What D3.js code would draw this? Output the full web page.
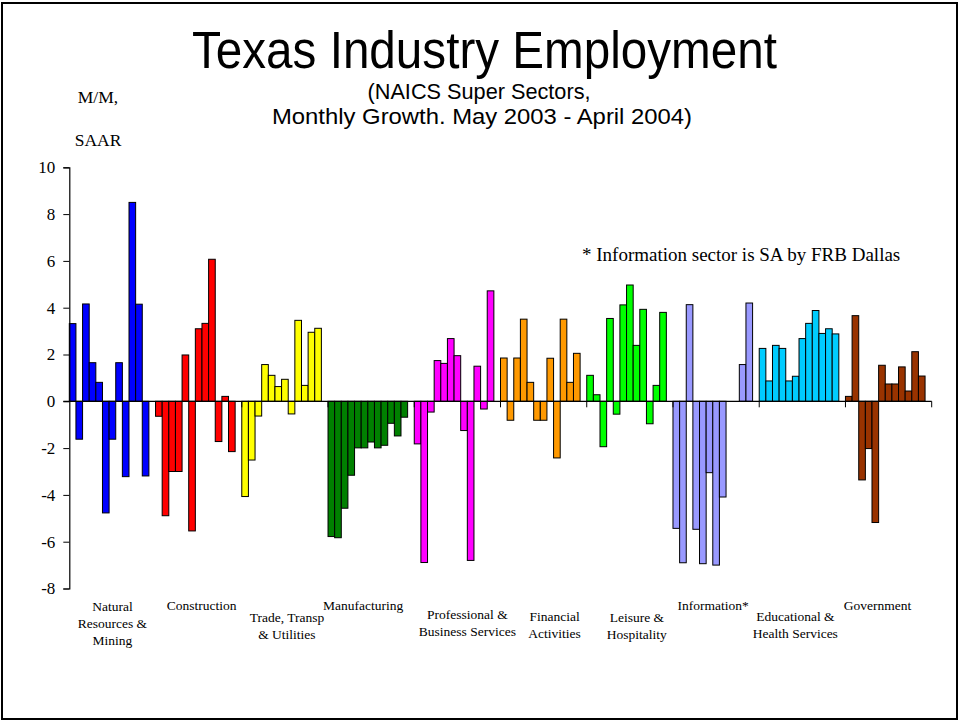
<html>
<head>
<meta charset="utf-8">
<script src="https://d3js.org/d3.v7.min.js"></script>
<style>
  body { margin: 0; background: #fff; }
  .serif { font-family: "Liberation Serif", "Times New Roman", serif; fill: #000; }
  .sans { font-family: "Liberation Sans", Arial, sans-serif; fill: #000; }
</style>
</head>
<body>
<script>
// ** data: monthly growth, May 2003 - April 2004 (M/M, SAAR)
var months = ["May 03","Jun 03","Jul 03","Aug 03","Sep 03","Oct 03","Nov 03","Dec 03","Jan 04","Feb 04","Mar 04","Apr 04"];
var sectors = ["Natural Resources & Mining","Construction","Trade, Transp & Utilities","Manufacturing",
               "Professional & Business Services","Financial Activities","Leisure & Hospitality",
               "Information*","Educational & Health Services","Government"];
var sectorLines = [["Natural","Resources &","Mining"],["Construction"],["Trade, Transp","& Utilities"],["Manufacturing"],
                   ["Professional &","Business Services"],["Financial","Activities"],["Leisure &","Hospitality"],
                   ["Information*"],["Educational &","Health Services"],["Government"]];

var natRes        = [3.32, -1.62, 4.16, 1.65, 0.81, -4.77, -1.62, 1.65, -3.22, 8.50, 4.15, -3.19];
var construction  = [-0.64, -4.89, -3.00, -3.00, 1.98, -5.54, 3.10, 3.33, 6.07, -1.72, 0.21, -2.15];
var trade         = [-4.07, -2.51, -0.63, 1.57, 1.11, 0.63, 0.94, -0.54, 3.46, 0.68, 2.95, 3.12];
var manufacturing = [-5.78, -5.83, -4.57, -3.16, -1.99, -1.99, -1.74, -1.99, -1.88, -0.94, -1.48, -0.68];
var profBus       = [-1.82, -6.89, -0.46, 1.74, 1.62, 2.68, 1.95, -1.25, -6.80, 1.50, -0.33, 4.72];
var financial     = [1.85, -0.81, 1.85, 3.51, 0.81, -0.81, -0.81, 1.84, -2.42, 3.51, 0.81, 2.05];
var leisure       = [1.11, 0.28, -1.94, 3.54, -0.55, 4.12, 4.97, 2.39, 3.93, -0.96, 0.68, 3.80];
var information   = [-5.43, -6.90, 4.13, -5.47, -6.94, -3.05, -7.00, -4.09, 0, 0, 1.57, 4.20];
var eduHealth     = [2.26, 0.87, 2.39, 2.26, 0.87, 1.07, 2.68, 3.33, 3.88, 2.90, 3.10, 2.88];
var government    = [0.21, 3.66, -3.36, -2.02, -5.18, 1.54, 0.74, 0.74, 1.47, 0.44, 2.12, 1.08];

var series = [natRes, construction, trade, manufacturing, profBus, financial, leisure, information, eduHealth, government];
var colorset = ["#0000FF","#FF0000","#FFFF00","#008000","#FF00FF","#FF9900","#00FF00","#9999FF","#00CCFF","#993300"];
var yTicks = [10, 8, 6, 4, 2, 0, -2, -4, -6, -8];

// label nudges (layout only): x shift from group centre, first baseline
var labelPos = [[0,611],[3,610],[2,622],[-8,610],[10,619],[11,621],[7,622],[-3,610],[-7,621],[-11,610]];

// *** canvas
var width = 960, height = 721;
var plot = { left: 69.3, right: 931.7, top: 167.3, bottom: 588.5 };

var svg = d3.select("body").append("svg")
    .attr("width", width)
    .attr("height", height);

svg.append("rect")
    .attr("x", 2).attr("y", 3)
    .attr("width", 955).attr("height", 716)
    .attr("fill", "none")
    .attr("stroke", "#000")
    .attr("stroke-width", 2);

// *** scales
var xScale = d3.scaleBand().domain(sectors).range([plot.left, plot.right]).padding(0);
var mScale = d3.scaleBand().domain(months).range([0, xScale.bandwidth() * 12 / 13]).padding(0);
var yScale = d3.scaleLinear().domain([-8, 10]).range([plot.bottom, plot.top]);

// *** bars
var groups = svg.selectAll("g.sector")
    .data(sectors)
    .enter().append("g")
    .attr("class", "sector")
    .attr("transform", function(d){ return "translate(" + xScale(d) + ",0)"; });

groups.each(function(s, i){
    d3.select(this).selectAll("rect")
        .data(series[i].map(function(v, j){ return { m: months[j], v: v }; }).filter(function(d){ return d.v !== 0; }))
        .enter().append("rect")
        .attr("x", function(d){ return mScale(d.m); })
        .attr("width", mScale.bandwidth())
        .attr("y", function(d){ return yScale(Math.max(0, d.v)); })
        .attr("height", function(d){ return Math.abs(yScale(d.v) - yScale(0)); })
        .attr("fill", colorset[i])
        .attr("stroke", "#000")
        .attr("stroke-width", 1);
});

// *** axes
var yAxis = d3.axisLeft(yScale).tickValues(yTicks).tickSize(6).tickPadding(8).tickFormat(d3.format("d"));
var yg = svg.append("g")
    .attr("transform", "translate(" + plot.left + ",0)")
    .call(yAxis);
yg.select(".domain").attr("stroke", "#000").attr("stroke-width", 1.2);
yg.selectAll(".tick line").attr("stroke", "#000");
yg.selectAll(".tick text")
    .attr("class", "serif")
    .style("font-size", "17px")
    .text(function(d){ return d < 0 ? "-" + Math.abs(d) : d; });

var xg = svg.append("g")
    .attr("transform", "translate(0," + yScale(0) + ")");
xg.append("line")
    .attr("x1", plot.left - 6).attr("x2", plot.right)
    .attr("stroke", "#000").attr("stroke-width", 1.2);
xg.selectAll("line.tick")
    .data(sectors.slice(1).concat(["end"]))
    .enter().append("line")
    .attr("class", "tick")
    .attr("x1", function(d){ return d === "end" ? plot.right : xScale(d); })
    .attr("x2", function(d){ return d === "end" ? plot.right : xScale(d); })
    .attr("y1", 0).attr("y2", 6)
    .attr("stroke", "#000");

// *** sector labels
sectors.forEach(function(s, i){
    var cx = xScale(s) + xScale.bandwidth() / 2 + labelPos[i][0];
    var t = svg.append("text")
        .attr("class", "serif")
        .attr("text-anchor", "middle")
        .style("font-size", "13.5px");
    sectorLines[i].forEach(function(line, k){
        t.append("tspan").attr("x", cx).attr("y", labelPos[i][1] + k * 17).text(line);
    });
});

// *** titles
svg.append("text").attr("class", "sans")
    .attr("x", 484.5).attr("y", 68)
    .attr("text-anchor", "middle")
    .attr("textLength", 585)
    .attr("lengthAdjust", "spacingAndGlyphs")
    .style("font-size", "51px")
    .text("Texas Industry Employment");
svg.append("text").attr("class", "sans")
    .attr("x", 479).attr("y", 99)
    .attr("text-anchor", "middle")
    .attr("textLength", 223)
    .attr("lengthAdjust", "spacingAndGlyphs")
    .style("font-size", "22px")
    .text("(NAICS Super Sectors,");
svg.append("text").attr("class", "sans")
    .attr("x", 482).attr("y", 124)
    .attr("text-anchor", "middle")
    .attr("textLength", 420)
    .attr("lengthAdjust", "spacingAndGlyphs")
    .style("font-size", "22px")
    .text("Monthly Growth. May 2003 - April 2004)");

svg.append("text").attr("class", "serif")
    .attr("x", 98).attr("y", 103)
    .attr("text-anchor", "middle")
    .style("font-size", "17.5px")
    .text("M/M,");
svg.append("text").attr("class", "serif")
    .attr("x", 98).attr("y", 146)
    .attr("text-anchor", "middle")
    .style("font-size", "17.5px")
    .text("SAAR");

svg.append("text").attr("class", "serif")
    .attr("x", 582).attr("y", 261)
    .style("font-size", "19px")
    .text("* Information sector is SA by FRB Dallas");
</script>
</body>
</html>
